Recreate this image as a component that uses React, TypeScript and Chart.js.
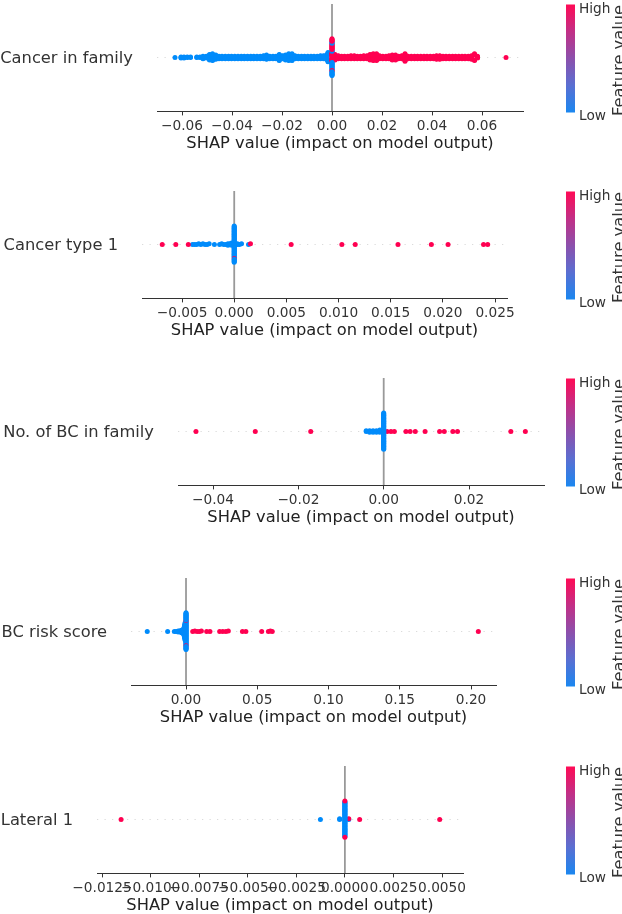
import React, { useEffect, useRef } from "react";
import { Chart, registerables } from "chart.js";

Chart.register(...registerables);

// ---------- colours / text ----------
const LOW_COLOR = "#008bfb";
const HIGH_COLOR = "#ff0051";
const xAxisTitle = "SHAP value (impact on model output)";
const colorbarHigh = "High";
const colorbarLow = "Low";
const colorbarTitle = "Feature value";

// ---------- data: [shap value, count] for low / high feature values; zero pile = feature level (H/L) of points with SHAP ≈ 0, in data order ----------
// Panel 1
const cancerInFamilyName = "Cancer in family";
const cancerInFamilyLow: [number, number][] = [
  [-0.0628, 1], [-0.0604, 3], [-0.0592, 3], [-0.0579, 2], [-0.0566, 2],
  [-0.0541, 2], [-0.0528, 2], [-0.0516, 3], [-0.0503, 4], [-0.049, 10], [-0.0478, 12], [-0.0465, 8],
  [-0.0452, 5], [-0.044, 5], [-0.0427, 5], [-0.0414, 5], [-0.0402, 5], [-0.0389, 5], [-0.0376, 5],
  [-0.0363, 5], [-0.0351, 5], [-0.0338, 5], [-0.0325, 5], [-0.0313, 5], [-0.03, 5], [-0.0287, 5],
  [-0.0274, 6], [-0.0262, 8], [-0.0249, 5], [-0.0236, 5], [-0.0224, 5], [-0.0211, 6], [-0.0198, 6],
  [-0.0186, 9], [-0.0173, 12], [-0.016, 12], [-0.0148, 6], [-0.0135, 5], [-0.0122, 5], [-0.011, 5],
  [-0.0097, 5], [-0.0084, 5], [-0.0072, 5], [-0.0059, 5], [-0.0046, 6], [-0.0034, 6], [-0.0022, 8],
  [-0.0016, 8],
];
const cancerInFamilyHigh: [number, number][] = [
  [0.0012, 10], [0.0025, 6], [0.0038, 5], [0.005, 5], [0.0063, 5], [0.0076, 6], [0.0089, 6],
  [0.0101, 5], [0.0114, 5], [0.0127, 6], [0.014, 6], [0.0152, 10], [0.0165, 12], [0.0178, 12],
  [0.019, 6], [0.0203, 5], [0.0216, 5], [0.0228, 6], [0.0241, 9], [0.0254, 9], [0.0266, 5],
  [0.0279, 6], [0.0292, 7], [0.0304, 5], [0.0317, 5], [0.033, 5], [0.0342, 5], [0.0355, 5],
  [0.0368, 5], [0.038, 5], [0.0393, 5], [0.0406, 5], [0.0418, 7], [0.0431, 7], [0.0444, 5],
  [0.0456, 5], [0.0469, 5], [0.0482, 5], [0.0494, 5], [0.0507, 5], [0.052, 5], [0.0532, 5],
  [0.0545, 5], [0.0558, 7], [0.057, 5], [0.0582, 4], [0.0696, 1],
];
const cancerInFamilyZero = "HHHHHHHHHHHHHHHHLHLLLLLLLHLHLHLHLHLHLHLHLHHHHLLLLLLHLHLHLHLH";
const cancerInFamilyTicks = [-0.06, -0.04, -0.02, 0, 0.02, 0.04, 0.06];
const cancerInFamilyTickLabels = ["\u22120.06", "\u22120.04", "\u22120.02", "0.00", "0.02", "0.04", "0.06"];
const cancerInFamilyRange = [-0.07, 0.0764];

// Panel 2
const cancerType1Name = "Cancer type 1";
const cancerType1Low: [number, number][] = [
  [-0.004, 1], [-0.0038, 1], [-0.0036, 1], [-0.0034, 1], [-0.0032, 1], [-0.003, 1], [-0.0028, 1],
  [-0.0026, 1], [-0.0024, 1], [-0.0019, 1], [-0.0014, 1], [-0.0012, 1], [-0.001, 1], [-0.0008, 1],
  [-0.0006, 2], [-0.0004, 2], [-0.00025, 2], [0.0003, 2], [0.0005, 1], [0.0007, 1], [0.00137, 1],
];
const cancerType1High: [number, number][] = [
  [-0.0069, 1], [-0.0056, 1], [-0.0044, 1], [0.00156, 1], [0.00546, 1], [0.01032, 1], [0.0116, 1],
  [0.0157, 1], [0.0189, 1], [0.0205, 1], [0.0239, 1], [0.0243, 1],
];
const cancerType1Zero = "LLLLLLLLLLLLLLLLLLLLLLLLLLLLLLLLLLLLLLHLLLLLLLLLLL";
const cancerType1Ticks = [-0.005, 0, 0.005, 0.01, 0.015, 0.02, 0.025];
const cancerType1TickLabels = ["\u22120.005", "0.000", "0.005", "0.010", "0.015", "0.020", "0.025"];
const cancerType1Range = [-0.00884, 0.02615];

// Panel 3
const bcInFamilyName = "No. of BC in family";
const bcInFamilyLow: [number, number][] = [
  [-0.0041, 2], [-0.0033, 3], [-0.0025, 3], [-0.0017, 3], [-0.0009, 4],
];
const bcInFamilyHigh: [number, number][] = [
  [-0.044, 1], [-0.0301, 1], [-0.0171, 1], [0.0008, 1], [0.0017, 1], [0.0025, 1], [0.0052, 1],
  [0.0062, 1], [0.0074, 1], [0.0097, 1], [0.0131, 1], [0.0142, 1], [0.0162, 1], [0.0173, 1],
  [0.0298, 1], [0.0332, 1],
];
const bcInFamilyZero = "LLLLLLLLLLLLLLLLLLLLLLLLLLLLLLLLLLLLLLLLLLLLLLLLLL";
const bcInFamilyTicks = [-0.04, -0.02, 0, 0.02];
const bcInFamilyTickLabels = ["\u22120.04", "\u22120.02", "0.00", "0.02"];
const bcInFamilyRange = [-0.04821, 0.03757];

// Panel 4
const bcRiskName = "BC risk score";
const bcRiskLow: [number, number][] = [
  [-0.0272, 1], [-0.0129, 1], [-0.0082, 1], [-0.007, 1], [-0.0055, 2], [-0.0045, 2], [-0.0032, 3],
  [-0.0026, 3], [-0.002, 4], [-0.0014, 6], [-0.001, 8], [-0.0006, 8],
];
const bcRiskHigh: [number, number][] = [
  [0.0047, 1], [0.0062, 1], [0.0078, 1], [0.0094, 1], [0.0108, 1], [0.0145, 1], [0.0168, 1],
  [0.0236, 1], [0.0258, 1], [0.028, 1], [0.0297, 1], [0.0396, 1], [0.042, 1], [0.0531, 1],
  [0.0578, 1], [0.0592, 1], [0.0605, 1], [0.2051, 1],
];
const bcRiskZero = "LLLLLLLLLLLLLLLLLLLLLLLLLLLLLLLLLLLHLLLLLLLLLLHLLLLLLLLLLLLL";
const bcRiskTicks = [0, 0.05, 0.1, 0.15, 0.2];
const bcRiskTickLabels = ["0.00", "0.05", "0.10", "0.15", "0.20"];
const bcRiskRange = [-0.0386, 0.2175];

// Panel 5
const lateral1Name = "Lateral 1";
const lateral1Low: [number, number][] = [
  [-0.00126, 1], [-0.00027, 2], [0.0002, 1],
];
const lateral1High: [number, number][] = [
  [-0.01152, 1], [0.0002, 1], [0.00076, 1], [0.00488, 1],
];
const lateral1Zero = "LLLLLLLLLLLLLLLLLLLLLLLLLLLLLLLLLLLLLLLLLLLLLLLLHH";
const lateral1Ticks = [-0.0125, -0.01, -0.0075, -0.005, -0.0025, 0, 0.0025, 0.005];
const lateral1TickLabels = ["\u22120.0125", "\u22120.0100", "\u22120.0075", "\u22120.0050", "\u22120.0025", "0.0000", "0.0025", "0.0050"];
const lateral1Range = [-0.01276, 0.00608];

// ---------- layout (positions only) ----------
const W = 622;
const PAD_TOP = 3;
const PLOT_H = 108;
const AXIS_H = 45;
const CANVAS_H = PAD_TOP + PLOT_H + AXIS_H;
const CB_X = 566;
const CB_W = 9;

type PanelCfg = {
  name: string;
  low: [number, number][];
  high: [number, number][];
  zero: string;
  ticks: number[];
  tickLabels: string[];
  range: number[];
  top: number;
  left: number;
  right: number;
};

const panels: PanelCfg[] = [
  { name: cancerInFamilyName, low: cancerInFamilyLow, high: cancerInFamilyHigh, zero: cancerInFamilyZero, ticks: cancerInFamilyTicks, tickLabels: cancerInFamilyTickLabels, range: cancerInFamilyRange, top: 3, left: 157, right: 523 },
  { name: cancerType1Name, low: cancerType1Low, high: cancerType1High, zero: cancerType1Zero, ticks: cancerType1Ticks, tickLabels: cancerType1TickLabels, range: cancerType1Range, top: 190, left: 142, right: 507 },
  { name: bcInFamilyName, low: bcInFamilyLow, high: bcInFamilyHigh, zero: bcInFamilyZero, ticks: bcInFamilyTicks, tickLabels: bcInFamilyTickLabels, range: bcInFamilyRange, top: 377, left: 178, right: 544 },
  { name: bcRiskName, low: bcRiskLow, high: bcRiskHigh, zero: bcRiskZero, ticks: bcRiskTicks, tickLabels: bcRiskTickLabels, range: bcRiskRange, top: 577, left: 131, right: 496 },
  { name: lateral1Name, low: lateral1Low, high: lateral1High, zero: lateral1Zero, ticks: lateral1Ticks, tickLabels: lateral1TickLabels, range: lateral1Range, top: 765, left: 97, right: 463 },
];

// ---------- shap-style beeswarm layout ----------
function beeswarm(values: number[]): number[] {
  const n = values.length;
  const nbins = 100;
  const mn = Math.min(...values);
  const mx = Math.max(...values);
  const quant = values.map((v) => Math.round((nbins * (v - mn)) / (mx - mn + 1e-8)));
  const inds = values.map((_, i) => i).sort((a, b) => quant[a] - quant[b] || a - b);
  const ys = new Array(n).fill(0);
  let layer = 0;
  let last = -1;
  for (const ind of inds) {
    if (quant[ind] !== last) layer = 0;
    ys[ind] = Math.ceil(layer / 2) * ((layer % 2) * 2 - 1);
    layer += 1;
    last = quant[ind];
  }
  const m = Math.max(...ys.map((y) => y + 1));
  return ys.map((y) => y * 0.9 * (0.4 / m));
}

const FONT = "DejaVu Sans";

const colorbarPlugin = {
  id: "colorbar",
  afterDraw(chart: any) {
    const ctx = chart.ctx as CanvasRenderingContext2D;
    const top = PAD_TOP + 1.5;
    const h = PLOT_H;
    ctx.save();
    const g = ctx.createLinearGradient(0, top + h, 0, top);
    g.addColorStop(0, "#1a87f0");
    g.addColorStop(0.25, "#5a6fd2");
    g.addColorStop(0.5, "#8c50ac");
    g.addColorStop(0.75, "#c22f86");
    g.addColorStop(1, "#ff0a55");
    ctx.fillStyle = g;
    ctx.fillRect(CB_X, top, CB_W, h);
    ctx.fillStyle = "#333333";
    ctx.font = `13.7px "${FONT}"`;
    ctx.textAlign = "left";
    ctx.textBaseline = "alphabetic";
    ctx.fillText(colorbarHigh, 579, top + 8);
    ctx.fillText(colorbarLow, 579, top + h + 7);
    ctx.translate(624.4, top + h / 2 + 2);
    ctx.rotate(-Math.PI / 2);
    ctx.textAlign = "center";
    ctx.font = `16.3px "${FONT}"`;
    ctx.fillText(colorbarTitle, 0, 0);
    ctx.restore();
  },
};

function Panel({ cfg }: { cfg: PanelCfg }) {
  const ref = useRef<HTMLCanvasElement>(null);
  useEffect(() => {
    const xs: number[] = [];
    const cols: string[] = [];
    for (const [v, c] of cfg.low) for (let k = 0; k < c; k++) { xs.push(v); cols.push(LOW_COLOR); }
    for (const [v, c] of cfg.high) for (let k = 0; k < c; k++) { xs.push(v); cols.push(HIGH_COLOR); }
    for (const ch of cfg.zero) { xs.push(0); cols.push(ch === "H" ? HIGH_COLOR : LOW_COLOR); }
    const ys = beeswarm(xs);
    const pts = xs.map((x, i) => ({ x, y: ys[i] }));
    const [xmin, xmax] = cfg.range;

    const chart = new Chart(ref.current as HTMLCanvasElement, {
      type: "scatter",
      data: {
        datasets: [
          {
            data: pts,
            pointRadius: 2.5,
            pointBorderWidth: 0,
            pointBackgroundColor: cols,
            pointBorderColor: cols,
            showLine: false,
          } as any,
          {
            data: [{ x: 0, y: -1 }, { x: 0, y: 1 }],
            showLine: true,
            borderColor: "#999999",
            borderWidth: 1.8,
            pointRadius: 0,
          } as any,
          {
            data: [{ x: xmin, y: 0 }, { x: xmax, y: 0 }],
            showLine: true,
            borderColor: "#cccccc",
            borderWidth: 0.7,
            borderDash: [1.25, 6.25],
            pointRadius: 0,
          } as any,
        ],
      },
      options: {
        responsive: false,
        animation: false,
        events: [],
        layout: { padding: { left: 0, right: W - cfg.right, top: PAD_TOP, bottom: 0 } },
        plugins: {
          legend: { display: false },
          tooltip: { enabled: false },
        },
        scales: {
          x: {
            type: "linear",
            min: xmin,
            max: xmax,
            afterBuildTicks: (s: any) => {
              s.ticks = cfg.ticks.map((v) => ({ value: v }));
            },
            afterFit: (s: any) => {
              s.height = AXIS_H;
              s.paddingLeft = 0;
              s.paddingRight = 0;
            },
            ticks: {
              callback: (_v: any, i: number) => cfg.tickLabels[i],
              autoSkip: false,
              maxRotation: 0,
              minRotation: 0,
              padding: 3,
              color: "#333333",
              font: { family: FONT, size: 13.7 },
            },
            grid: {
              display: true,
              drawOnChartArea: false,
              drawTicks: true,
              tickLength: 4.4,
              color: "#333333",
              lineWidth: 1,
            },
            border: { display: true, color: "#333333", width: 1 },
            title: {
              display: true,
              text: xAxisTitle,
              color: "#222222",
              font: { family: FONT, size: 16.3 },
              padding: { top: 0, bottom: 2.5 },
            },
          } as any,
          y: {
            type: "linear",
            min: -1,
            max: 1,
            afterBuildTicks: (s: any) => {
              s.ticks = [{ value: 0 }];
            },
            afterFit: (s: any) => {
              s.width = cfg.left;
              s.paddingTop = 0;
              s.paddingBottom = 0;
            },
            ticks: {
              callback: () => cfg.name,
              padding: 24,
              labelOffset: 1.5,
              color: "#333333",
              font: { family: FONT, size: 16.3 },
            },
            grid: { display: false, drawTicks: false },
            border: { display: false },
          } as any,
        },
      },
      plugins: [colorbarPlugin],
    } as any);
    return () => chart.destroy();
  }, []);
  return (
    <canvas
      ref={ref}
      width={W}
      height={CANVAS_H}
      style={{ position: "absolute", left: 0, top: cfg.top - PAD_TOP, width: W, height: CANVAS_H, display: "block" }}
    />
  );
}

export default function App() {
  return (
    <div style={{ position: "fixed", left: 0, top: 0, width: W, height: 914, overflow: "hidden", background: "#ffffff" }}>
      {panels.map((p, i) => (
        <Panel key={i} cfg={p} />
      ))}
    </div>
  );
}
